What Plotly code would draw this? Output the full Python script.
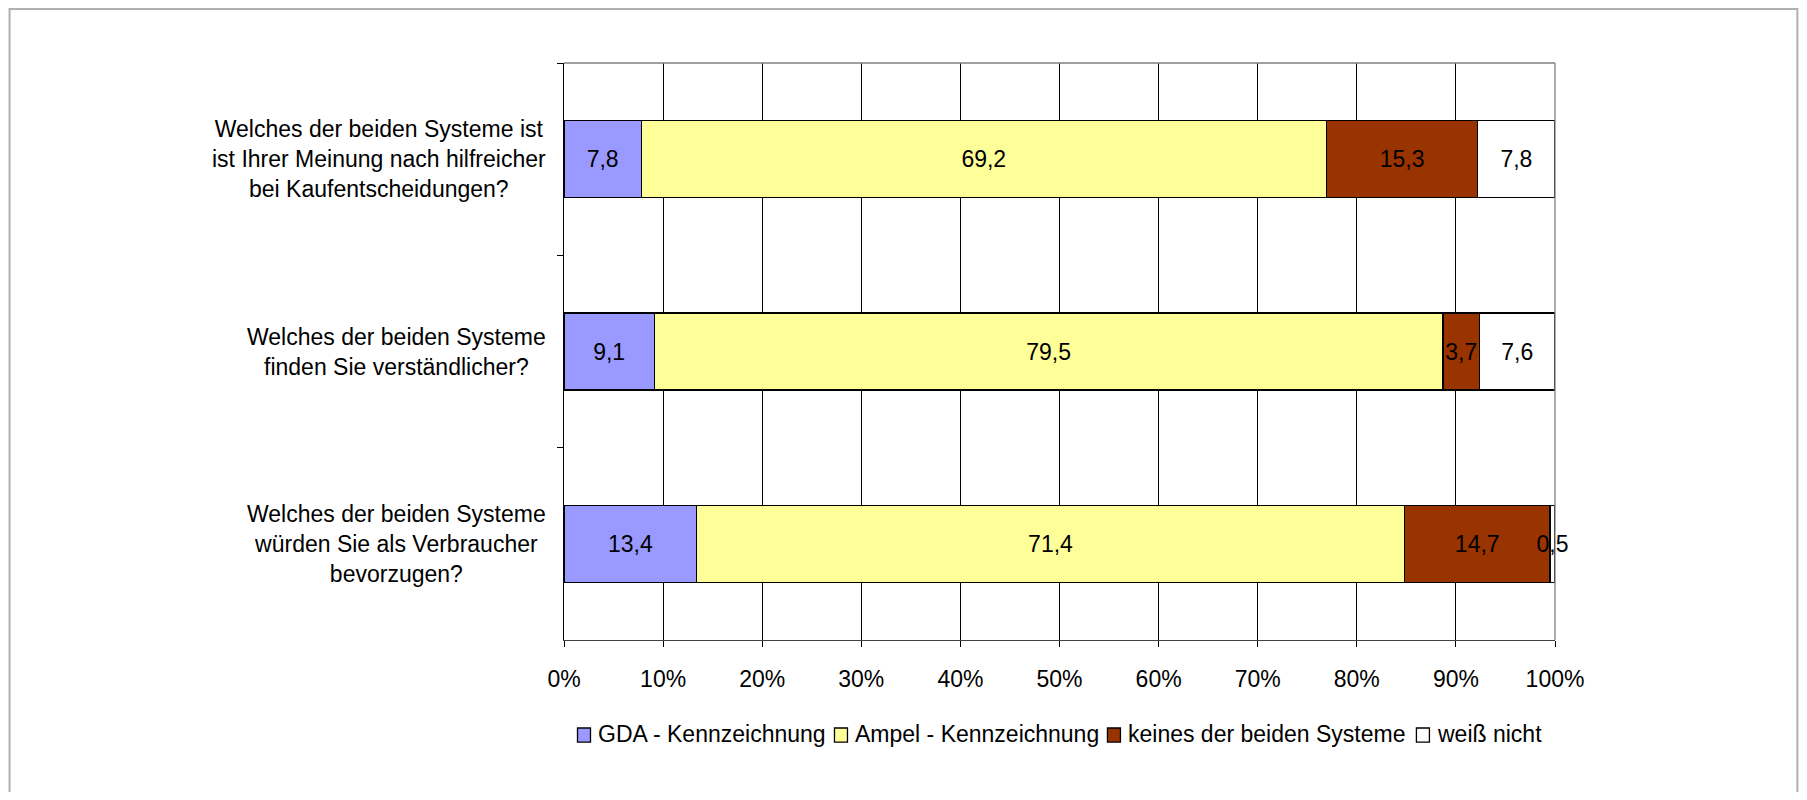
import plotly.graph_objects as go

questions = [
    "Welches der beiden Systeme ist<br>ist Ihrer Meinung nach hilfreicher<br>bei Kaufentscheidungen?",
    "Welches der beiden Systeme<br>finden Sie verständlicher?",
    "Welches der beiden Systeme<br>würden Sie als Verbraucher<br>bevorzugen?",
]
cat_ids = ["Q1", "Q2", "Q3"]
series_names = ["GDA - Kennzeichnung", "Ampel - Kennzeichnung", "keines der beiden Systeme", "weiß nicht"]
gda = [7.8, 9.1, 13.4]
ampel = [69.2, 79.5, 71.4]
keines = [15.3, 3.7, 14.7]
weiss = [7.8, 7.6, 0.5]
series_values = [gda, ampel, keines, weiss]
colors = ["#9999FF", "#FFFF99", "#993300", "#FFFFFF"]
x_ticks = list(range(0, 101, 10))
x_ticklabels = [f"{v}%" for v in x_ticks]

OFF = 8  # page body margin
W, H = 1791, 784
# plot area in page pixel coordinates
PL, PR, PT, PB = 563.5, 1554.6, 63.4, 639.6
L, R, T, B = PL - OFF, PR - OFF, PT - OFF, PB - OFF
FONT = "Liberation Sans, Arial, sans-serif"
FS = 23

def px_x(p):  # page x -> paper
    return (p - PL) / (PR - PL)

def px_y(p):  # page y -> paper
    return (PB - p) / (PB - PT)

fig = go.Figure()
for name, vals, col in zip(series_names, series_values, colors):
    fig.add_trace(go.Bar(
        name=name, y=cat_ids, x=vals, orientation="h",
        marker=dict(color=col, line=dict(color="#000000", width=1.3)),
        text=[f"{v:.1f}".replace(".", ",") for v in vals],
        textposition="inside", insidetextanchor="middle", textangle=0,
        constraintext="none", cliponaxis=False,
        textfont=dict(family=FONT, size=FS, color="#000000"),
        width=0.4, hoverinfo="skip", showlegend=False,
    ))

annotations = []
for cid, q in zip(cat_ids, questions):
    annotations.append(dict(
        x=0, xref="paper", xshift=-16.5, y=cid, yref="y",
        text=q, showarrow=False, xanchor="right", yanchor="middle", align="center",
        font=dict(family=FONT, size=FS, color="#000000"),
    ))

shapes = [
    # outer chart border (kept inside the figure canvas)
    dict(type="rect", xref="paper", yref="paper",
         x0=px_x(9), x1=px_x(1797), y0=px_y(830), y1=px_y(9.5),
         line=dict(color="#b0b0b0", width=2), layer="below"),
    # plot area top / right border
    dict(type="line", xref="paper", yref="paper", x0=0, x1=1, y0=1, y1=1,
         line=dict(color="#808080", width=1.3)),
    dict(type="line", xref="paper", yref="paper", x0=1, x1=1, y0=0, y1=1,
         line=dict(color="#808080", width=1.3)),
]

# manual legend (single row, as in the reference)
legend_sq_left = [577, 834, 1107, 1416]
legend_cy = 734.5
for name, col, sx in zip(series_names, colors, legend_sq_left):
    shapes.append(dict(type="rect", xref="paper", yref="paper",
                       x0=px_x(sx), x1=px_x(sx + 13),
                       y0=px_y(legend_cy + 7), y1=px_y(legend_cy - 7),
                       fillcolor=col, line=dict(color="#000000", width=1.3)))
    annotations.append(dict(x=px_x(sx + 19), xref="paper", y=px_y(legend_cy - 1), yref="paper",
                            text=name, showarrow=False, xanchor="left", yanchor="middle",
                            font=dict(family=FONT, size=FS, color="#000000")))

fig.update_layout(
    width=W, height=H,
    margin=dict(l=L, r=W - R, t=T, b=H - B, pad=0),
    barmode="stack", barnorm="percent",
    paper_bgcolor="#FFFFFF", plot_bgcolor="#FFFFFF",
    font=dict(family=FONT, size=FS, color="#000000"),
    showlegend=False,
    annotations=annotations, shapes=shapes,
    xaxis=dict(range=[0, 100], tickvals=x_ticks, ticktext=x_ticklabels,
               showgrid=True, gridcolor="#000000", gridwidth=1,
               showline=True, linecolor="#404040", linewidth=1.3,
               ticks="outside", ticklen=6, tickcolor="#000000", tickwidth=1.3,
               ticklabelstandoff=12, zeroline=False,
               tickfont=dict(family=FONT, size=FS, color="#000000"), fixedrange=True),
    yaxis=dict(type="category", categoryorder="array", categoryarray=cat_ids,
               autorange="reversed", showticklabels=False,
               ticks="outside", tickson="boundaries", ticklen=6,
               tickcolor="#000000", tickwidth=1.3,
               showline=True, linecolor="#000000", linewidth=1.3,
               showgrid=False, zeroline=False, fixedrange=True),
)

fig.write_html("out.html")
